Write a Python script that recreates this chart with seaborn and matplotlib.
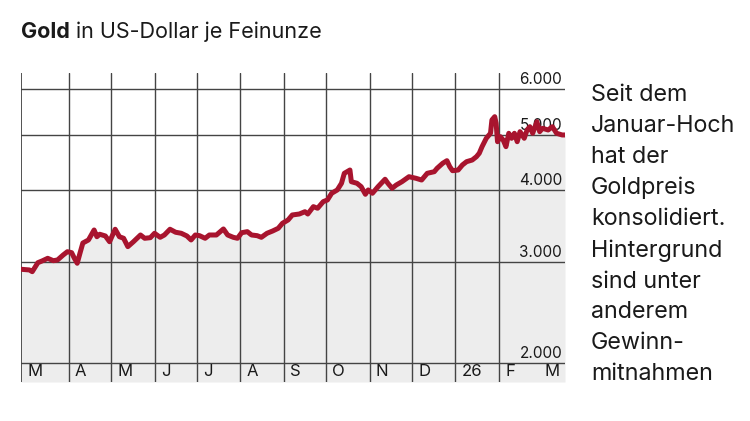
import numpy as np
import pandas as pd
import matplotlib.pyplot as plt
import matplotlib.transforms as mtransforms
import seaborn as sns

# gold price, USD per troy ounce
dates = [
    "2025-02-26", "2025-03-04", "2025-03-06", "2025-03-10", "2025-03-13", "2025-03-17",
    "2025-03-21", "2025-03-24", "2025-03-28", "2025-03-31", "2025-04-03", "2025-04-05",
    "2025-04-07", "2025-04-09", "2025-04-11", "2025-04-15", "2025-04-19", "2025-04-21",
    "2025-04-23", "2025-04-27", "2025-04-30", "2025-05-04", "2025-05-07", "2025-05-10",
    "2025-05-13", "2025-05-17", "2025-05-22", "2025-05-25", "2025-05-29", "2025-06-01",
    "2025-06-05", "2025-06-08", "2025-06-12", "2025-06-16", "2025-06-20", "2025-06-24",
    "2025-06-27", "2025-06-30", "2025-07-03", "2025-07-07", "2025-07-10", "2025-07-15",
    "2025-07-20", "2025-07-23", "2025-07-27", "2025-07-30", "2025-08-02", "2025-08-06",
    "2025-08-09", "2025-08-13", "2025-08-16", "2025-08-20", "2025-08-24", "2025-08-28",
    "2025-08-31", "2025-09-04", "2025-09-07", "2025-09-12", "2025-09-16", "2025-09-18",
    "2025-09-22", "2025-09-25", "2025-09-29", "2025-10-02", "2025-10-05", "2025-10-09",
    "2025-10-12", "2025-10-14", "2025-10-16", "2025-10-18", "2025-10-19", "2025-10-23",
    "2025-10-26", "2025-10-29", "2025-10-31", "2025-11-03", "2025-11-07", "2025-11-12",
    "2025-11-14", "2025-11-17", "2025-11-20", "2025-11-24", "2025-11-29", "2025-12-04",
    "2025-12-08", "2025-12-12", "2025-12-17", "2025-12-19", "2025-12-23", "2025-12-26",
    "2025-12-28", "2025-12-30", "2026-01-03", "2026-01-06", "2026-01-09", "2026-01-13",
    "2026-01-16", "2026-01-18", "2026-01-20", "2026-01-23", "2026-01-26", "2026-01-27",
    "2026-01-29", "2026-01-30", "2026-01-31", "2026-02-02", "2026-02-04", "2026-02-06",
    "2026-02-08", "2026-02-10", "2026-02-12", "2026-02-14", "2026-02-16", "2026-02-19",
    "2026-02-21", "2026-02-23", "2026-02-25", "2026-02-28", "2026-03-02", "2026-03-04",
    "2026-03-08", "2026-03-11", "2026-03-14", "2026-03-18", "2026-03-20",
]
prices = [
    2914, 2906, 2886, 2992, 3013, 3045,
    3016, 3025, 3086, 3127, 3115, 3045,
    2985, 3111, 3238, 3278, 3412, 3321,
    3354, 3331, 3255, 3422, 3321, 3300,
    3191, 3255, 3344, 3300, 3308, 3367,
    3313, 3344, 3422, 3381, 3367, 3331,
    3278, 3344, 3335, 3300, 3344, 3344,
    3426, 3344, 3313, 3300, 3375, 3389,
    3344, 3335, 3313, 3367, 3398, 3435,
    3505, 3552, 3624, 3638, 3672, 3638,
    3747, 3723, 3823, 3849, 3954, 4007,
    4116, 4284, 4312, 4341, 4142, 4116,
    4060, 3938, 4007, 3954, 4060, 4183,
    4116, 4034, 4088, 4142, 4226, 4199,
    4170, 4284, 4312, 4371, 4460, 4507,
    4400, 4329, 4341, 4430, 4489, 4519,
    4580, 4643, 4768, 4931, 5031, 5307,
    5378, 5237, 4864, 4963, 4898, 4768,
    5031, 4931, 5031, 4864, 5064, 4931,
    5098, 5166, 5031, 5271, 5064, 5133,
    5098, 5166, 5031, 4997, 4997,
]

y_ticks = [2000, 3000, 4000, 5000, 6000]
month_starts = ["2025-03-01", "2025-04-01", "2025-05-01", "2025-06-01", "2025-07-01",
                "2025-08-01", "2025-09-01", "2025-10-01", "2025-11-01", "2025-12-01",
                "2026-01-01", "2026-02-01"]
month_labels = ["M", "A", "M", "J", "J", "A", "S", "O", "N", "D", "26", "F"]
last_label = "M"
note = "Seit dem\nJanuar-Hoch\nhat der\nGoldpreis\nkonsolidiert.\nHintergrund\nsind unter\nanderem\nGewinn-\nmitnahmen"

df = pd.DataFrame({"date": pd.to_datetime(dates), "price": prices})

sns.set_style("white")
plt.rcParams["font.family"] = ["Inter", "DejaVu Sans"]

red = "#a8142e"
grid_c = "#444444"
fill_c = "#ededed"
text_c = "#1a1a1a"

fig = plt.figure(figsize=(7.5, 4.21), dpi=100)
ax = fig.add_axes([21 / 750, 1 - 382 / 421, 544 / 750, 309 / 421])

x_left = pd.Timestamp("2025-02-26")
x_right = pd.Timestamp("2026-03-20")
y_low, y_high = 1853, 6409

ax.set_yscale("log")
ax.set_xlim(x_left, x_right)
ax.set_ylim(y_low, y_high)

ax.fill_between(df["date"], df["price"], y_low, color=fill_c, lw=0, zorder=1)
sns.lineplot(data=df, x="date", y="price", ax=ax, color=red, lw=3.6, zorder=5,
             solid_joinstyle="round", solid_capstyle="round")

# grid
for v in y_ticks:
    ax.axhline(v, color=grid_c, lw=1.0, zorder=2)
for d in month_starts[1:]:
    ax.axvline(pd.Timestamp(d), color=grid_c, lw=1.0, zorder=2)
ax.axvline(x_left, color=grid_c, lw=1.3, zorder=2)

# y labels inside the plot, right aligned above the lines
ytrans = mtransforms.blended_transform_factory(ax.transAxes, ax.transData)
for v in y_ticks:
    ax.annotate(f"{v:,}".replace(",", "."), xy=(1, v), xycoords=ytrans,
                xytext=(-2, 1.5), textcoords="offset points",
                ha="right", va="bottom", fontsize=11, color=text_c, zorder=3)

# month labels in the band below 2.000
label_pos = [x_left] + [pd.Timestamp(d) for d in month_starts[1:]]
for d, lab in zip(label_pos, month_labels):
    ax.annotate(lab, xy=(d, y_low), xycoords="data", xytext=(4.5, 2.5),
                textcoords="offset points", ha="left", va="bottom",
                fontsize=12, color=text_c, zorder=3)
ax.annotate(last_label, xy=(1, y_low), xycoords=ytrans, xytext=(-4, 2.5),
            textcoords="offset points", ha="right", va="bottom",
            fontsize=12, color=text_c, zorder=3)

ax.set_xticks([])
ax.set_yticks([])
ax.minorticks_off()
ax.set_xlabel("")
ax.set_ylabel("")
for s in ax.spines.values():
    s.set_visible(False)
ax.set_facecolor("none")

# title
t1 = fig.text(21 / 750, 1 - 38 / 421, "Gold", fontsize=15.5, fontweight="bold",
              color=text_c, va="baseline", ha="left")
ax.annotate(" in US-Dollar je Feinunze", xy=(1, 0), xycoords=t1, va="bottom",
            ha="left", fontsize=15.5, color=text_c, annotation_clip=False)

fig.text(591 / 750, 1 - 84 / 421, note, fontsize=16.8, color=text_c,
         va="top", ha="left", linespacing=1.52)

plt.savefig("out.png", dpi=100)
plt.close()
